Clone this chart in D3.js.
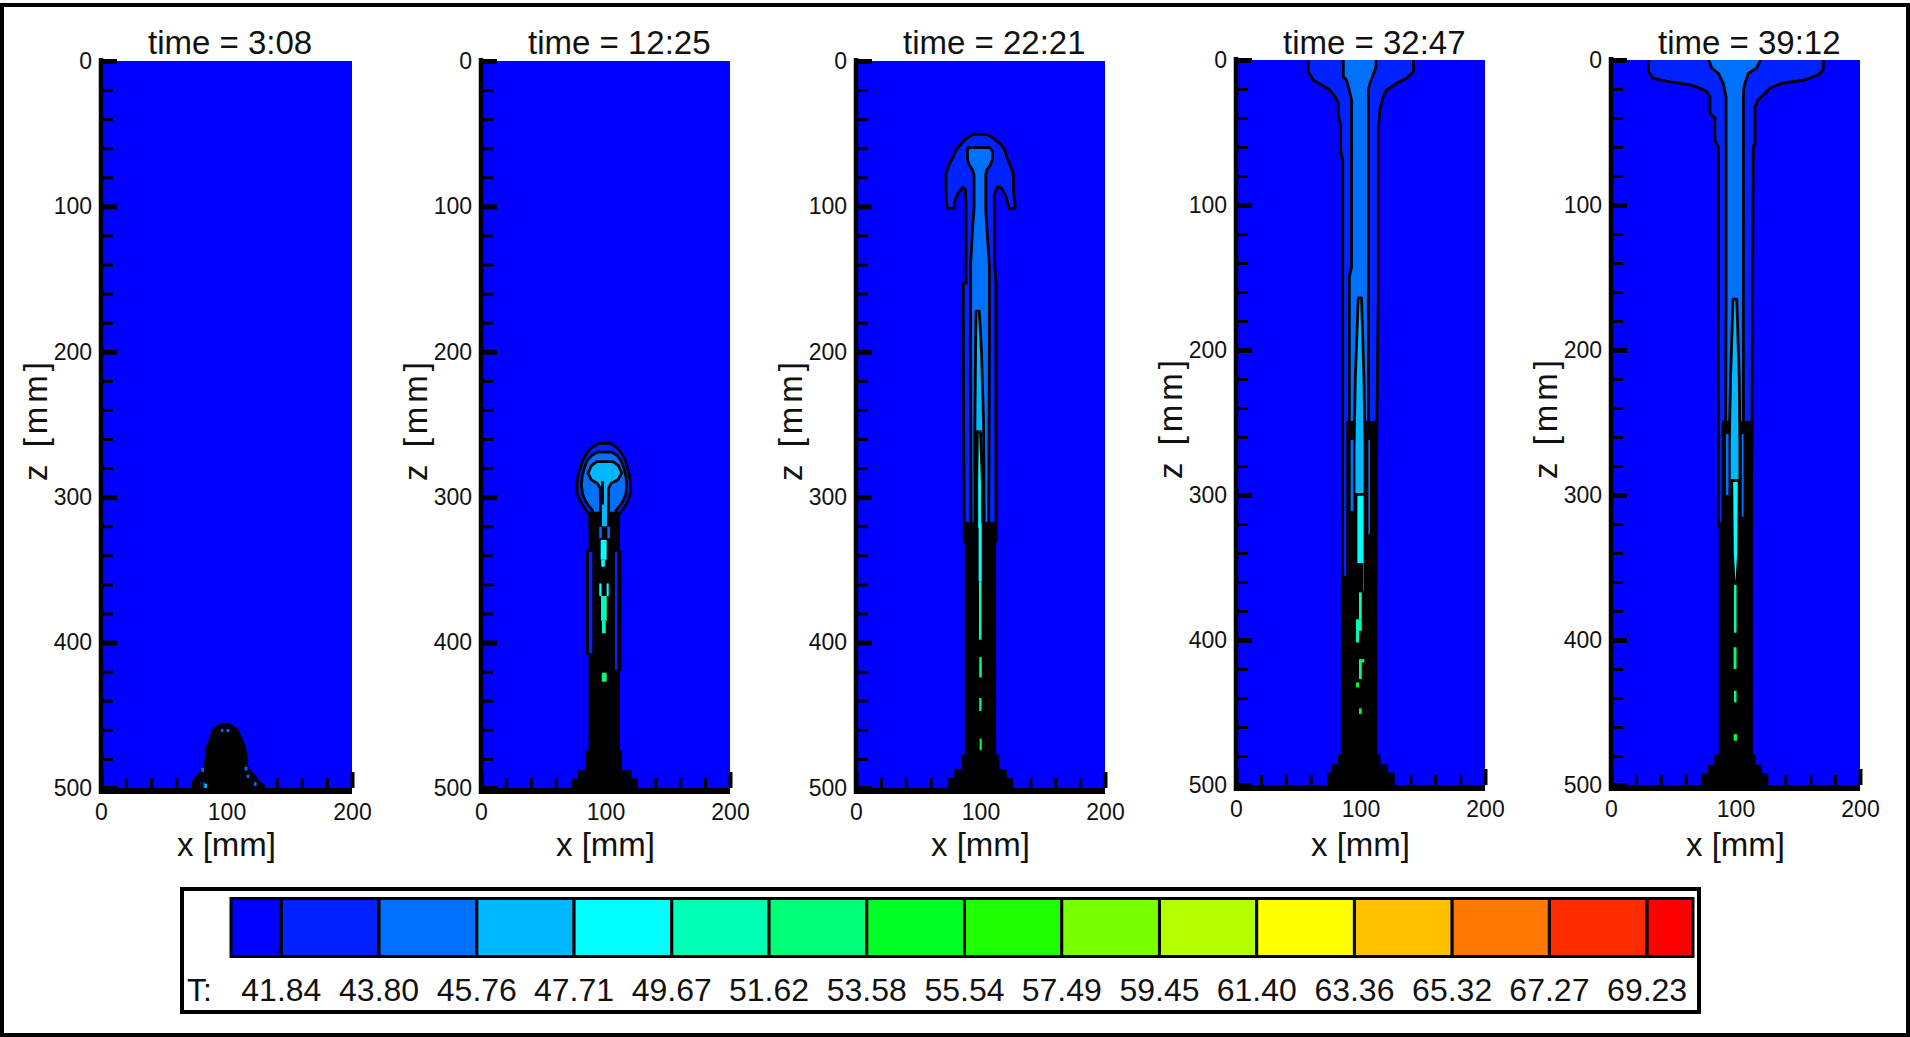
<!DOCTYPE html>
<html><head><meta charset="utf-8">
<script src="https://cdn.jsdelivr.net/npm/d3@7"></script>
<style>
html,body{margin:0;padding:0;background:#fff;}
svg{display:block;}
text{font-family:"Liberation Sans",Arial,Helvetica,sans-serif;fill:#111;}
</style></head><body>
<svg id="chart" width="1910" height="1037"></svg>
<script>
// ================= DATA =================
const times = ["3:08", "12:25", "22:21", "32:47", "39:12"];
const levels = [41.84, 43.80, 45.76, 47.71, 49.67, 51.62, 53.58, 55.54, 57.49, 59.45, 61.40, 63.36, 65.32, 67.27, 69.23];
const levelColors = ["#0000ff", "#0022ff", "#0070ff", "#00b8ff", "#00ffff", "#00ffb4", "#00ff78", "#00ff28",
                     "#20ff00", "#78ff00", "#b4ff00", "#ffff00", "#ffc000", "#ff7800", "#ff2c00", "#ff0000"];
const tRange = [40.83, 70.15];
const xTicksMajor = [0, 100, 200];
const xTicksMinor = [20, 40, 60, 80, 120, 140, 160, 180];
const zTicksMajor = [0, 100, 200, 300, 400, 500];
const zTicksMinor = [20, 40, 60, 80, 120, 140, 160, 180, 220, 240, 260, 280, 320, 340, 360, 380, 420, 440, 460, 480];

// contour regions: c = level colour index (-1 = dense contour lines, black); pts = [x mm, z mm]
const plume308 = [
  {c: -1, pts: [[96,456.5],[93.5,457.5],[89.5,460],[86.9,467],[84.7,471.6],[84.2,477.3],[82.9,485.4],[79.7,488.8],[76.8,492.2],[73.5,495.7],[73.5,504],[129.3,504],[129.3,498],[125.3,495.7],[122.7,492.2],[118.7,488.8],[116.1,485.4],[115.5,477.3],[114.2,471.6],[112.1,467],[108.6,460],[104.1,457.5],[102,456.5]]}
];
const streaks308 = [
  [79.2,495.7,82.4,500,2],[82.4,497,84.5,500,3],[80,486,82,489,2],[114.4,485.4,116.7,488,2],
  [116.1,490.8,118.2,493,2],[121.9,496,124,498.5,2],[95.6,459.5,97.5,461.5,2],[100.1,459.5,102.3,461.5,2]
];

const plume1225 = [
  {c: 1, pts: [[95,262.9],[103.6,262.9],[107.6,265],[110.3,267],[113,270],[115.7,274],[117.5,279],[119,284],[120,290],[120,297],[118.3,302],[116,306],[113,309.5],[110.3,313],[110.3,322],[87.5,322],[87.5,313],[84.9,309.5],[82,306],[79.5,302],[77.2,297],[77.2,290],[78.2,284],[80.2,279],[82,274],[84.9,270],[87.5,267],[90.5,265]]},
  {c: 2, pts: [[93.5,269],[105,269],[109.5,271.5],[112.5,275],[114.8,280],[116.5,286],[117,292],[116.5,297.5],[114.5,302],[111.5,306],[108.5,309],[107,320],[91,320],[89.5,309],[86.5,306],[83.5,302],[81.5,297.5],[80.7,292],[81.2,286],[83,280],[85.2,275],[88.5,271.5]]},
  {c: -1, pts: [[87.5,311],[87.5,337.5],[85.3,337.5],[85.3,407.4],[87.5,407.4],[87.5,475],[84.9,475],[84.9,488.8],[78.2,488.8],[78.2,494.5],[74.2,494.5],[74.2,504],[125,504],[125,494.5],[119.7,494.5],[119.7,488.8],[112.2,488.8],[112.2,475],[110.3,475],[110.3,418.8],[111.7,418.8],[111.7,337.5],[110.3,337.5],[110.3,311]]},
  {c: 3, pts: [[93,275.5],[106,275.5],[110.5,278.5],[113,283.5],[110,288],[104.5,290.5],[102.5,294],[102.3,321],[96.1,321],[95.8,294],[93.5,290.5],[88.5,288],[86,283.5],[88.5,278.5]]}
];
const streaks1225 = [
  [96.5,289,98.8,305,-1],[86.7,337.5,89.4,407.4,1],[107.6,337.5,109.6,418.8,1],
  [95,320.3,97,328.3,2],[101.5,320.3,103.5,328.3,2],
  [96.1,329.4,100.9,343,4],[96.6,343,99.5,347.8,4],[95,359.3,96.8,368,4],[100.9,359.3,102.6,368,4],
  [96.4,368,101,385,5],[97.2,385,100.2,393.6,5],[97,420.7,100.9,426.9,6]
];

const plume2221 = [
  {c: 1, pts: [[94.2,50.4],[88.9,53.2],[84.9,56.6],[80.3,61.2],[78.2,65.8],[74.7,71.5],[72.3,77.3],[72.3,88.7],[72.8,97.9],[73.5,101.3],[78.7,101.3],[79.5,96],[82,91],[85.5,87],[88,88.5],[88.4,100],[88.4,152.9],[86.2,152.9],[86.2,200],[86.5,260],[87,330],[112.5,330],[112.4,260],[112.4,152.9],[111.1,136.9],[111.1,92],[113.5,86.4],[117,87.6],[120.5,93.3],[123.2,101.3],[127.7,101.3],[127.7,97.9],[126.4,88.7],[126.4,77.3],[123.7,71.5],[121,65.8],[119.7,61.2],[115.7,56.6],[110.3,53.2],[105,50.4]]},
  {c: 2, pts: [[90.2,59.6],[89.4,62.4],[89.7,68],[91,71.5],[93.7,75],[94.8,78.4],[94.8,102.5],[93.7,113.9],[92.1,140],[92.1,200],[92.5,330],[106.5,330],[107.1,200],[107.1,140],[105,113.9],[104.2,102.5],[104.2,78.4],[105,75],[108,71.5],[109.5,68],[109.8,62.4],[107.6,59.6]]},
  {c: -1, pts: [[88.5,318],[88.5,478],[86,478],[86,488],[80,488],[80,494],[75,494],[75,504],[125,504],[125,494],[120,494],[120,488],[114,488],[114,478],[111.5,478],[111.5,318]]},
  {c: 3, pts: [[96.4,172],[99,172],[100.8,200],[102.5,250],[103,322],[95.5,322],[95.5,250],[96,200]]},
  {c: 4, pts: [[97.5,255],[100,255],[101.5,290],[101.5,322],[97,322],[97,290]]}
];
const streaks2221 = [
  [98.5,318,101,358,4],[98.8,358,100.8,398,5],[99,410,101,424,6],[99,438,100.8,447,6],[99.3,466,101,474,7]
];

const plume3247 = [
  {c: 1, pts: [[58.1,-4],[58.1,8],[62.1,13.8],[68.8,17.2],[75.5,20.7],[79.5,25.3],[82.2,29.8],[82.2,39],[84.1,44],[84.1,62],[85.7,70],[85.7,270],[85.4,360],[112.4,360],[113,270],[114.3,165],[114.3,48.2],[115.6,34.4],[118.3,25.3],[121,20.7],[129,16.1],[137.1,12.6],[142.5,8],[142.5,-4]]},
  {c: 2, pts: [[86.2,-4],[86.2,11.5],[88.9,14],[90.8,20],[92.9,28],[92.9,142.3],[91,150],[91,270],[91.5,330],[105.5,330],[106.3,270],[106.3,20.7],[107.6,16],[110.3,10],[112.4,5],[112.4,-4]]},
  {c: -1, pts: [[89.7,250],[89.7,357],[85.4,357],[85.4,479.8],[83,479.8],[83,486.6],[78,486.6],[78,492.4],[74.2,492.4],[74.2,504],[126.4,504],[126.4,492.4],[121,492.4],[121,486.6],[114.9,486.6],[114.9,479.8],[112.4,479.8],[112.4,250]]},
  {c: 3, pts: [[98.2,164],[100.8,164],[102.8,220],[103.6,268],[103.6,300],[94.8,300],[94.8,268],[95.8,220]]},
  {c: 4, pts: [[96.4,299.6],[103.6,299.6],[103.6,367.2],[101,367.2],[101,347.8],[96.4,347.8]]}
];
const streaks3247 = [
  [92.1,262,94.3,311,2],[106.3,262,107.6,327.1,2],[98.8,367.2,101,385.7,5],[96.4,385.7,101,393.7,5],
  [96.4,393.7,98.8,401.7,5],[98.8,413.2,101,427,6],[101,413.2,103,415.5,6],[96.4,429.3,98.8,432.7,7],[98.8,447.1,101,451,7]
];

const plume3912 = [
  {c: 1, pts: [[30,-4],[30,8],[31.3,9.5],[34,12.6],[46.1,14.9],[63.5,17.2],[71.5,19.5],[76.8,21.8],[79.5,25.3],[79.5,36.7],[83.5,40],[83.5,55.1],[86.2,60],[86.2,322],[112.8,322],[114.3,60],[115.7,57.4],[115.7,32.1],[118.3,27.5],[122.4,24.1],[127.7,19.5],[137.1,16.1],[155.8,13.8],[166.5,10.3],[170.5,6.9],[170.5,-4]]},
  {c: 2, pts: [[76.8,-4],[80.9,5.5],[86.2,9.2],[90.2,16.1],[92.4,25.3],[92.4,166],[92,320],[106.5,320],[106.3,166],[106.3,25.3],[106.8,18.4],[110.3,9.2],[117,5.5],[122.4,-4]]},
  {c: -1, pts: [[90,250],[90,320],[87.7,320],[87.7,480],[84,480],[84,487],[79,487],[79,493],[73.3,493],[73.3,504],[125.3,504],[125.3,493],[120,493],[120,487],[115,487],[115,480],[112.8,480],[112.8,250]]},
  {c: 3, pts: [[98,165],[101,165],[103,220],[103.5,265],[103.5,300],[95,300],[95,265],[96,220]]},
  {c: 4, pts: [[97,290],[103,290],[102.5,340],[101,362],[99,362],[97.5,340]]}
];
const streaks3912 = [
  [92.4,258,94.4,300,2],[105,258,106.5,315,2],[98.8,362,100.8,395,5],[98.5,405,100.8,420,6],
  [98.8,435,100.8,443,6],[98.5,464.9,101.2,469.5,7]
];

// ================= LAYOUT =================
const panelLeft   = [101, 481, 856, 1236, 1611];
const panelRight  = [352, 730, 1105, 1485, 1860];
const panelTop    = [61, 61, 61, 60, 60];
const panelBottom = [788, 788, 788, 785, 785];
const plumes  = [plume308, plume1225, plume2221, plume3247, plume3912];
const streaks = [streaks308, streaks1225, streaks2221, streaks3247, streaks3912];

const svg = d3.select("#chart");
const colorOf = c => c < 0 ? "#000" : levelColors[c];

// outer frame
svg.append("rect").attr("x", 2).attr("y", 5).attr("width", 1906).attr("height", 1030)
  .attr("fill", "#fff").attr("stroke", "#000").attr("stroke-width", 4);

times.forEach((t, i) => {
  const L = panelLeft[i], R = panelRight[i], T = panelTop[i], B = panelBottom[i];
  const xs = d3.scaleLinear().domain([0, 200]).range([L, R]);
  const zs = d3.scaleLinear().domain([0, 500]).range([T, B]);
  const g = svg.append("g");

  const clipId = "clip" + i;
  g.append("clipPath").attr("id", clipId).append("rect")
    .attr("x", L + 2).attr("y", T).attr("width", R - L - 2).attr("height", B - T);

  const plot = g.append("g").attr("clip-path", `url(#${clipId})`);
  plot.append("rect").attr("x", L).attr("y", T).attr("width", R - L).attr("height", B - T)
    .attr("fill", levelColors[0]);

  const line = d3.line().x(d => xs(d[0])).y(d => zs(d[1])).curve(d3.curveLinearClosed);
  plot.selectAll("path.reg").data(plumes[i]).join("path").attr("class", "reg")
    .attr("d", d => line(d.pts))
    .attr("fill", d => colorOf(d.c))
    .attr("stroke", "#000").attr("stroke-width", 2.8).attr("stroke-linejoin", "round");

  plot.selectAll("rect.st").data(streaks[i]).join("rect").attr("class", "st")
    .attr("x", d => xs(d[0])).attr("y", d => zs(d[1]))
    .attr("width", d => xs(d[2]) - xs(d[0])).attr("height", d => zs(d[3]) - zs(d[1]))
    .attr("fill", d => colorOf(d[4]));

  // axes: minor and major ticks pointing into the plot
  const yMinor = g.append("g").attr("transform", `translate(${L},0)`)
    .call(d3.axisLeft(zs).tickValues(zTicksMinor).tickSize(-12).tickFormat(""));
  yMinor.select(".domain").remove();
  yMinor.selectAll("line").attr("stroke", "#000").attr("stroke-width", 3);

  const yMajor = g.append("g").attr("transform", `translate(${L},0)`)
    .call(d3.axisLeft(zs).tickValues(zTicksMajor).tickSize(-16).tickPadding(9).tickFormat(d3.format("d")));
  yMajor.select(".domain").remove();
  yMajor.selectAll("line").attr("stroke", "#000").attr("stroke-width", 5);
  yMajor.selectAll("text").attr("font-size", 23).attr("font-family", "Liberation Sans, Arial, sans-serif").attr("fill", "#222");

  const xMinor = g.append("g").attr("transform", `translate(0,${B})`)
    .call(d3.axisBottom(xs).tickValues(xTicksMinor).tickSize(-10).tickFormat(""));
  xMinor.select(".domain").remove();
  xMinor.selectAll("line").attr("stroke", "#000").attr("stroke-width", 3);

  const xMajor = g.append("g").attr("transform", `translate(0,${B})`)
    .call(d3.axisBottom(xs).tickValues(xTicksMajor).tickSize(-16).tickFormat(d3.format("d")));
  xMajor.select(".domain").remove();
  xMajor.selectAll("line").attr("stroke", "#000").attr("stroke-width", 4);
  xMajor.selectAll("text").attr("y", 32).attr("dy", 0).attr("font-size", 23)
    .attr("font-family", "Liberation Sans, Arial, sans-serif").attr("fill", "#222");

  // axis lines
  g.append("line").attr("x1", L).attr("x2", L).attr("y1", T - 3).attr("y2", B + 6)
    .attr("stroke", "#000").attr("stroke-width", 4.5);
  g.append("line").attr("x1", L - 2).attr("x2", R).attr("y1", B + 3).attr("y2", B + 3)
    .attr("stroke", "#000").attr("stroke-width", 6);

  // titles & axis labels
  g.append("text").attr("x", L + 47).attr("y", 54).attr("font-size", 33).text("time = " + t);
  g.append("text").attr("x", (L + R) / 2).attr("y", 856).attr("text-anchor", "middle")
    .attr("font-size", 33).text("x [mm]");
  g.append("text").attr("transform", `translate(${L - 54},${(T + B) / 2 - 5}) rotate(-90)`)
    .attr("text-anchor", "middle").attr("font-size", 33).attr("letter-spacing", 4).text("z [mm]");
});

// ================= LEGEND =================
svg.append("rect").attr("x", 182).attr("y", 889).attr("width", 1517).attr("height", 123)
  .attr("fill", "#fff").attr("stroke", "#000").attr("stroke-width", 4);

const cbX = d3.scaleLinear().domain(tRange).range([231, 1693]);
const bounds = [tRange[0], ...levels, tRange[1]];
const cells = levelColors.map((col, k) => ({col, a: bounds[k], b: bounds[k + 1]}));
svg.append("g").selectAll("rect").data(cells).join("rect")
  .attr("x", d => cbX(d.a)).attr("y", 898.5)
  .attr("width", d => cbX(d.b) - cbX(d.a)).attr("height", 58)
  .attr("fill", d => d.col).attr("stroke", "#000").attr("stroke-width", 3);

svg.append("g").selectAll("text").data(levels).join("text")
  .attr("x", d => cbX(d)).attr("y", 1001).attr("text-anchor", "middle")
  .attr("font-size", 32).attr("fill", "#222").text(d => d.toFixed(2));
svg.append("text").attr("x", 187).attr("y", 1001).attr("font-size", 32).attr("fill", "#222").text("T:");
</script>
</body></html>
